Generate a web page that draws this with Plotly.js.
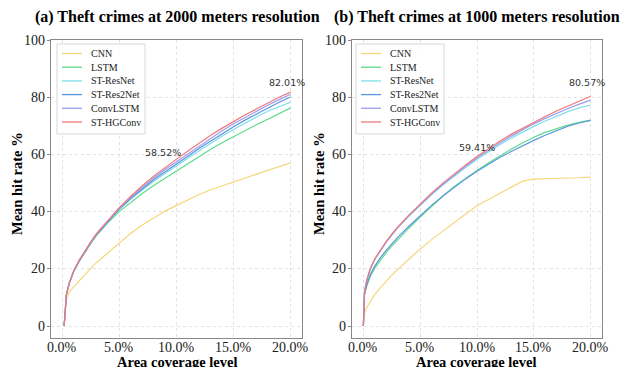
<!DOCTYPE html>
<html><head><meta charset="utf-8">
<script src="https://cdn.plot.ly/plotly-3.0.1.min.js"></script>
<style>html,body{margin:0;padding:0;background:#fff}#chart{width:624px;height:367px}</style>
</head><body><div id="chart"></div>
<script>
const seriesNames = ['CNN','LSTM','ST-ResNet','ST-Res2Net','ConvLSTM','ST-HGConv'];
const seriesColors = ['#f3d77c','#5dd98c','#80dfea','#5b97dc','#9c9cf0','#f07878'];

// Panel (a): 2000 m
const xA = [0.15,0.35,0.6,1,1.5,2,2.5,3,4,5,6,7,8,9,10,11,12,13,14,15,16,17,18,19,20];
const a_CNN = [0,9.5,12,13.8,16,18.3,20.3,22.3,25.8,29.3,32.5,35.4,38,40.3,42.3,44.3,46.1,47.8,49.2,50.5,51.9,53.2,54.6,55.9,57.2];
const a_LSTM = [0,11,15,19.2,22.8,26,29,31.8,36.3,40.2,43.5,46.5,49.3,51.9,54.2,56.9,59.5,62,64.3,66.5,68.6,70.6,72.5,74.5,76.5];
const a_ResNet = [0,11,15,19.3,23,26.3,29.3,32.1,36.7,40.9,44.5,47.8,50.8,53.5,56,58.8,61.5,64.1,66.6,68.9,71.2,73.3,75.3,77,78.5];
const a_Res2Net = [0,11,15,19.3,23,26.3,29.3,32.1,36.8,41.1,44.8,48.2,51.3,54.1,56.7,59.5,62.3,64.9,67.5,69.9,72.2,74.4,76.5,78.5,80.3];
const a_ConvLSTM = [0,11,15,19.4,23.2,26.5,29.5,32.3,37,41.4,45.2,48.7,51.9,54.9,57.6,60.5,63.3,65.9,68.5,70.9,73.1,75.3,77.4,79.4,81.3];
const a_HGConv = [0,11,15,19.5,23.3,26.6,29.6,32.5,37.2,41.6,45.5,49.2,52.5,55.6,58.52,61.4,64.2,66.9,69.4,71.8,74,76.1,78.2,80.2,82.01];

// Panel (b): 1000 m
const xB = [0,0.1,0.3,0.6,1,1.5,2,2.5,3,4,5,6,7,8,9,10,11,12,13,14,15,16,17,18,19,20];
const b_CNN = [0,4.5,6.5,8.5,11,13.5,15.8,17.8,19.8,23.5,27,30.3,33.4,36.4,39.3,42.2,44.4,46.6,48.8,50.8,51.5,51.7,51.8,51.9,52,52.2];
const b_LSTM = [0,11,14,17.3,20.3,23.2,25.7,28,30.2,34.3,38.2,42,45.6,48.9,51.8,54.5,57.2,59.7,62,64.2,66.2,67.9,69.3,70.5,71.4,72.2];
const b_ResNet = [0,12,16,20,23.3,26.5,29.3,31.9,34.3,38.5,42.4,46,49.4,52.6,55.6,58.5,61.1,63.6,65.9,68,70,71.9,73.6,75.2,76.5,77.5];
const b_Res2Net = [0,11,14.5,18,21,24,26.5,28.8,31,35,38.8,42.3,45.6,48.7,51.6,54.3,56.8,59.1,61.2,63.2,65.1,66.9,68.6,70.1,71.2,72.1];
const b_ConvLSTM = [0,12,16,20,23.4,26.6,29.4,32,34.4,38.7,42.6,46.3,49.7,53,56,58.9,61.6,64.2,66.6,68.8,70.9,72.8,74.6,76.3,77.8,79.2];
const b_HGConv = [0,12,16,20,23.5,26.8,29.6,32.2,34.6,38.9,42.9,46.6,50.1,53.4,56.5,59.41,62.2,64.8,67.2,69.4,71.5,73.5,75.4,77.2,79,80.57];

const panelA = [a_CNN,a_LSTM,a_ResNet,a_Res2Net,a_ConvLSTM,a_HGConv];
const panelB = [b_CNN,b_LSTM,b_ResNet,b_Res2Net,b_ConvLSTM,b_HGConv];

const titleA = '(a) Theft crimes at 2000 meters resolution';
const titleB = '(b) Theft crimes at 1000 meters resolution';
const xTitle = 'Area coverage level';
const yTitle = 'Mean hit rate %';
const xTicks = [0,5,10,15,20];
const xTickText = ['0.0%','5.0%','10.0%','15.0%','20.0%'];
const yTicks = [0,20,40,60,80,100];
const yTickText = ['0','20','40','60','80','100'];

const W = 624, H = 367;
const px = v => v / W, py = v => (H - v) / H;

const traces = [];
seriesNames.forEach((n,i)=>{
  traces.push({x:xA,y:panelA[i],name:n,type:'scatter',mode:'lines',xaxis:'x',yaxis:'y',
    line:{color:seriesColors[i],width:1.2},showlegend:false});
});
seriesNames.forEach((n,i)=>{
  traces.push({x:xB,y:panelB[i],name:n,type:'scatter',mode:'lines',xaxis:'x2',yaxis:'y2',
    line:{color:seriesColors[i],width:1.2},showlegend:false});
});

const serif = 'Liberation Serif';
const xax = (dom)=>({domain:dom,range:[-1,21],tickvals:xTicks,showticklabels:false,
  showgrid:true,gridcolor:'#e2e2e2',griddash:'dot',gridwidth:1,zeroline:false,
  showline:true,linecolor:'#888',linewidth:1.2,mirror:true,ticks:'',fixedrange:true});
const yax = (anchor)=>({domain:[py(338),py(40)],range:[-4.2,100.3],tickvals:yTicks,showticklabels:false,anchor:anchor,
  showgrid:true,gridcolor:'#e2e2e2',griddash:'dot',gridwidth:1,zeroline:false,
  showline:true,linecolor:'#888',linewidth:1.2,mirror:true,ticks:'outside',ticklen:3,tickcolor:'#888',fixedrange:true});

const ann = [
  {text:'<b>'+titleA+'</b>',xref:'paper',yref:'paper',x:px(177),y:py(17),xanchor:'center',yanchor:'middle',showarrow:false,font:{family:serif,size:16,color:'#000'}},
  {text:'<b>'+titleB+'</b>',xref:'paper',yref:'paper',x:px(477),y:py(17),xanchor:'center',yanchor:'middle',showarrow:false,font:{family:serif,size:16,color:'#000'}},
  {text:'<b>'+xTitle+'</b>',xref:'paper',yref:'paper',x:px(177),y:py(362),xanchor:'center',yanchor:'middle',showarrow:false,font:{family:serif,size:14.5,color:'#000'}},
  {text:'<b>'+xTitle+'</b>',xref:'paper',yref:'paper',x:px(477),y:py(362),xanchor:'center',yanchor:'middle',showarrow:false,font:{family:serif,size:14.5,color:'#000'}},
  {text:'<b>'+yTitle+'</b>',xref:'paper',yref:'paper',x:px(17),y:py(184),xanchor:'center',yanchor:'middle',textangle:-90,showarrow:false,font:{family:serif,size:14.5,color:'#000'}},
  {text:'<b>'+yTitle+'</b>',xref:'paper',yref:'paper',x:px(319),y:py(184),xanchor:'center',yanchor:'middle',textangle:-90,showarrow:false,font:{family:serif,size:14.5,color:'#000'}},
  {text:a_HGConv[14].toFixed(2)+'%',xref:'x',yref:'y',x:xA[14]-1.2,y:a_HGConv[14],yanchor:'bottom',xanchor:'center',yshift:-1,showarrow:false,font:{family:'DejaVu Sans',size:9.5,color:'#333'}},
  {text:a_HGConv[24].toFixed(2)+'%',xref:'x',yref:'y',x:xA[24]-0.3,y:a_HGConv[24],yanchor:'bottom',xanchor:'center',yshift:2,showarrow:false,font:{family:'DejaVu Sans',size:9.5,color:'#333'}},
  {text:b_HGConv[15].toFixed(2)+'%',xref:'x2',yref:'y2',x:xB[15],y:b_HGConv[15],yanchor:'bottom',xanchor:'center',yshift:2,showarrow:false,font:{family:'DejaVu Sans',size:9.5,color:'#333'}},
  {text:b_HGConv[25].toFixed(2)+'%',xref:'x2',yref:'y2',x:xB[25]-0.35,y:b_HGConv[25],yanchor:'bottom',xanchor:'center',yshift:6,showarrow:false,font:{family:'DejaVu Sans',size:9.5,color:'#333'}}
];

// Tick labels, placed on each axis at its tick values
[['x','y',51],['x2','y2',352]].forEach(([xr,yr,axLeft])=>{
  xTicks.forEach((v,i)=>ann.push({text:xTickText[i],xref:xr,yref:'paper',x:v,y:py(347.5),
    xanchor:'center',yanchor:'middle',showarrow:false,font:{family:serif,size:14,color:'#222'}}));
  yTicks.forEach((v,i)=>ann.push({text:yTickText[i],xref:'paper',yref:yr,x:px(axLeft-4),y:v,
    xanchor:'right',yanchor:'middle',showarrow:false,font:{family:serif,size:14,color:'#222'}}));
});

// Legends (one per panel), laid out from the series name/colour arrays
const shapes = [];
[57, 356].forEach(left=>{
  shapes.push({type:'rect',xref:'paper',yref:'paper',x0:px(left),x1:px(left+88),y0:py(44),y1:py(134),
    line:{color:'#d8d8d8',width:1},fillcolor:'rgba(255,255,255,0.9)',layer:'above'});
  seriesNames.forEach((n,i)=>{
    const yy = 53.5 + 13.7*i;
    shapes.push({type:'line',xref:'paper',yref:'paper',x0:px(left+5),x1:px(left+25),y0:py(yy),y1:py(yy),
      line:{color:seriesColors[i],width:1.3},layer:'above'});
    ann.push({text:n,xref:'paper',yref:'paper',x:px(left+32),y:py(yy),xanchor:'left',yanchor:'middle',
      showarrow:false,font:{family:serif,size:10,color:'#222'}});
  });
});

const layout = {
  width:W,height:H,margin:{l:0,r:0,t:0,b:0},paper_bgcolor:'#fff',plot_bgcolor:'#fff',
  font:{family:serif},
  xaxis:Object.assign(xax([px(51),px(302)]),{anchor:'y'}),
  yaxis:yax('x'),
  xaxis2:Object.assign(xax([px(352),px(602)]),{anchor:'y2'}),
  yaxis2:yax('x2'),
  showlegend:false,
  shapes:shapes,
  annotations:ann
};
Plotly.newPlot('chart',traces,layout,{displayModeBar:false,staticPlot:true});
</script></body></html>
